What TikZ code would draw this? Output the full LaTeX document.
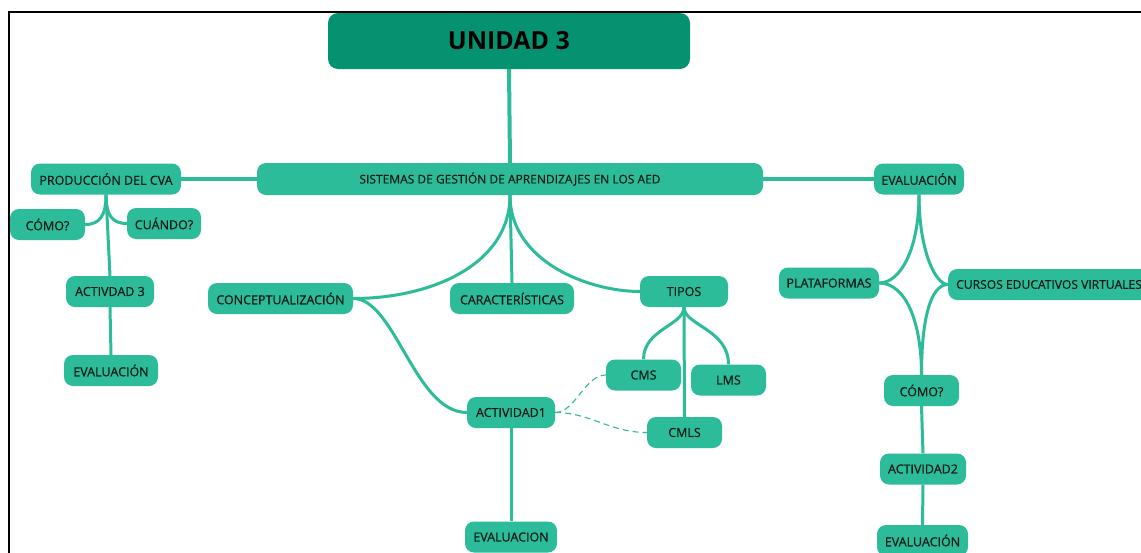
\documentclass[tikz,border=0pt]{standalone}
\usepackage{fontspec}
\setmainfont{Open Sans}
\newfontfamily\boxfont{Open Sans}[FakeBold=0.6]
\usetikzlibrary{backgrounds}
\definecolor{teal1}{RGB}{45,188,153}
\definecolor{dkgreen}{RGB}{4,146,112}
\definecolor{txt}{RGB}{12,26,22}
\tikzset{
 box/.style={rectangle, rounded corners=9pt, fill=teal1, text=txt, minimum height=31pt, inner sep=0pt, font=\boxfont\fontsize{12.5}{14}\selectfont},
 link/.style={draw=teal1, line width=3pt},
 dlink/.style={draw=teal1, line width=1.1pt, dash pattern=on 6pt off 4pt},
}
\begin{document}
\begin{tikzpicture}[x=1pt,y=-1pt]
\useasboundingbox (0,0) rectangle (1141,552);
\clip (0,0) rectangle (1141,552);
\node[box, fill=dkgreen, minimum width=362pt, minimum height=56pt, rounded corners=10pt, font=\rmfamily\fontsize{25}{28}\selectfont\bfseries, text=black] (u) at (509,41) {UNIDAD 3};
\node[box, minimum width=506pt, minimum height=32pt, font=\boxfont\fontsize{12}{14}\selectfont] (sis) at (510,179) {SISTEMAS DE GESTIÓN DE APRENDIZAJES EN LOS AED};
\node[box, minimum width=150pt] (prod) at (106,179) {PRODUCCIÓN DEL CVA};
\node[box, minimum width=75pt] (como1) at (47.5,224.5) {CÓMO?};
\node[box, minimum width=74pt] (cuando) at (164,223.5) {CUÁNDO?};
\node[box, minimum width=88pt] (act3) at (110,291.5) {ACTIVDAD 3};
\node[box, minimum width=94pt] (ev1) at (111,370.5) {EVALUACIÓN};
\node[box, minimum width=145pt] (conc) at (280.5,298.5) {CONCEPTUALIZACIÓN};
\node[box, minimum width=124pt] (car) at (512,298.5) {CARACTERÍSTICAS};
\node[box, minimum width=88pt] (tipos) at (684,291.5) {TIPOS};
\node[box, minimum width=75pt] (cms) at (643.5,375) {CMS};
\node[box, minimum width=75pt] (lms) at (728.5,380) {LMS};
\node[box, minimum width=75pt] (cmls) at (684.5,432.5) {CMLS};
\node[box, minimum width=88pt] (act1) at (511,412.5) {ACTIVIDAD1};
\node[box, minimum width=92pt] (ev2) at (511,537) {EVALUACION};
\node[box, minimum width=90pt] (ev) at (919,179) {EVALUACIÓN};
\node[box, minimum width=100pt] (plat) at (829,283) {PLATAFORMAS};
\node[box, anchor=west, inner xsep=8pt, font=\boxfont\fontsize{12.1}{14}\selectfont] (cur) at (948,284.5) {CURSOS EDUCATIVOS VIRTUALES};
\node[box, minimum width=75pt] (como2) at (921.5,390.5) {CÓMO?};
\node[box, minimum width=86pt] (act2) at (923,469) {ACTIVIDAD2};
\node[box, minimum width=91pt] (ev3) at (922.5,540.5) {EVALUACIÓN};
\draw[line width=2pt] (9,553) -- (9,12) -- (1142,12);
\begin{pgfonlayer}{background}
\fill[white] (0,0) rectangle (1141,552);
\draw[link, line width=4pt] (u.south) -- (sis.north);
\draw[link, line width=3.5pt] (sis.west) -- (prod.east);
\draw[link, line width=3.5pt] (sis.east) -- (ev.west);
\draw[link] (sis.south) .. controls +(0,70) and +(77,0) .. (conc.east);
\draw[link] (sis.south) -- (car.north);
\draw[link] (sis.south) .. controls +(0,67) and +(-50,0) .. (tipos.west);
\draw[link] (conc.east) .. controls +(42,0) and +(-52,0) .. (act1.west);
\draw[link] (act1.south) -- (ev2.north);
\draw[dlink] (act1.east) .. controls +(20,0) and +(-21,0) .. (cms.west);
\draw[dlink] (act1.east) .. controls +(35,0) and +(-37,0) .. (cmls.west);
\draw[link] (tipos.south) .. controls +(0,18) and +(0,-30) .. (cms.north);
\draw[link] (tipos.south) .. controls +(0,18) and +(0,-35) .. (lms.north);
\draw[link] (tipos.south) -- (cmls.north);
\draw[link] (prod.south) .. controls +(0,20) and +(15,0) .. (como1.east);
\draw[link] (prod.south) .. controls +(0,20) and +(-15,0) .. (cuando.west);
\draw[link] (prod.south) -- (act3.north);
\draw[link] (act3.south) -- (ev1.north);
\draw[link] (ev.south) .. controls +(0,55) and +(21,0) .. (plat.east);
\draw[link] (ev.south) .. controls +(0,55) and +(-13,0) .. (cur.west);
\draw[link] (plat.east) .. controls +(26,0) and +(0,-54) .. (como2.north);
\draw[link] (cur.west) .. controls +(-18,0) and +(0,-54) .. (como2.north);
\draw[link] (como2.south) -- (act2.north);
\draw[link] (act2.south) -- (ev3.north);
\end{pgfonlayer}
\end{tikzpicture}
\end{document}
